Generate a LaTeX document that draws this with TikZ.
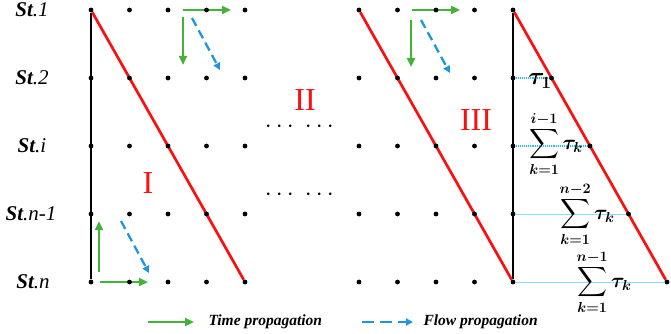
\documentclass[tikz,border=0pt]{standalone}
\usepackage{amsmath,bm}
\usepackage{fontspec}
\setmainfont{Liberation Serif}
\usetikzlibrary{arrows.meta,positioning,backgrounds}
\definecolor{stgreen}{RGB}{66,178,56}
\definecolor{stblue}{RGB}{30,150,222}
\definecolor{stred}{RGB}{250,16,16}
\definecolor{stcyan}{RGB}{30,200,235}
\tikzset{
  sdot/.style={circle, fill=black, minimum size=4.8pt, inner sep=0pt},
  stlabel/.style={font=\fontsize{21}{24}\selectfont\itshape},
  zone/.style={text=stred, font=\fontsize{32}{34}\selectfont},
  skip/.style={font=\fontsize{26}{28}\selectfont},
  sline/.style={line width=2pt, black},
  dline/.style={line width=2.7pt, stred},
  tprop/.style={-{Triangle[length=9pt,width=8pt]}, line width=2.7pt, stgreen},
  fprop/.style={-{Triangle[length=7pt,width=7pt]}, line width=2.3pt, stblue,
                dash pattern=on 9pt off 5pt},
  fproplong/.style={fprop, dash pattern=on 12pt off 6pt},
  gap/.style={densely dotted, line width=1.1pt, stcyan},
  gapfaint/.style={line width=0.6pt, stcyan!55},
  legtext/.style={font=\fontsize{15.5}{18}\selectfont\bfseries\itshape, anchor=west},
  sumlabel/.style={font=\fontsize{21}{23}\selectfont, inner sep=0pt},
}

\begin{document}
\begin{tikzpicture}[x=1pt, y=-1pt, >=Stealth]
  \useasboundingbox (0,0) rectangle (671,334);
  % left block of stations
  \node[sdot](a11) at (91,10){}; \node[sdot](a12) at (129.5,10){}; \node[sdot](a13) at (168,10){};
  \node[sdot](a14) at (206.5,10){}; \node[sdot](a15) at (245,10){};
  \node[sdot](a21) at (91,78){}; \node[sdot](a22) at (129.5,78){}; \node[sdot](a23) at (168,78){};
  \node[sdot](a24) at (206.5,78){}; \node[sdot](a25) at (245,78){};
  \node[sdot](a31) at (91,146){}; \node[sdot](a32) at (129.5,146){}; \node[sdot](a33) at (168,146){};
  \node[sdot](a34) at (206.5,146){}; \node[sdot](a35) at (245,146){};
  \node[sdot](a41) at (91,214){}; \node[sdot](a42) at (129.5,214){}; \node[sdot](a43) at (168,214){};
  \node[sdot](a44) at (206.5,214){}; \node[sdot](a45) at (245,214){};
  \node[sdot](a51) at (91,282){}; \node[sdot](a52) at (129.5,282){}; \node[sdot](a53) at (168,282){};
  \node[sdot](a54) at (206.5,282){}; \node[sdot](a55) at (245,282){};
  % right block
  \begin{scope}[shift={(268,0)}]
    \node[sdot](b11) at (91,10){}; \node[sdot](b12) at (129.5,10){}; \node[sdot](b13) at (168,10){};
    \node[sdot](b14) at (206.5,10){}; \node[sdot](b15) at (245,10){};
    \node[sdot](b21) at (91,78){}; \node[sdot](b22) at (129.5,78){}; \node[sdot](b23) at (168,78){};
    \node[sdot](b24) at (206.5,78){}; \node[sdot](b25) at (245,78){};
    \node[sdot](b31) at (91,146){}; \node[sdot](b32) at (129.5,146){}; \node[sdot](b33) at (168,146){};
    \node[sdot](b34) at (206.5,146){}; \node[sdot](b35) at (245,146){};
    \node[sdot](b41) at (91,214){}; \node[sdot](b42) at (129.5,214){}; \node[sdot](b43) at (168,214){};
    \node[sdot](b44) at (206.5,214){}; \node[sdot](b45) at (245,214){};
    \node[sdot](b51) at (91,282){}; \node[sdot](b52) at (129.5,282){}; \node[sdot](b53) at (168,282){};
    \node[sdot](b54) at (206.5,282){}; \node[sdot](b55) at (245,282){};
  \end{scope}
  \node[sdot](t2) at (551.5,78){}; \node[sdot](t3) at (590,146){};
  \node[sdot](t4) at (628.5,214){}; \node[sdot](t5) at (667,282){};

  \node[stlabel](s1) at (32,10){\textbf{St}.1};
  \node[stlabel](s2) at (32,78){\textbf{St}.2};
  \node[stlabel](si) at (32,146){\textbf{St}.i};
  \node[stlabel](sn1) at (31,214){\textbf{St}.n-1};
  \node[stlabel](sn) at (33,282){\textbf{St}.n};

  \node[zone](zI) at (148,183){I};
  \node[zone](zII) at (305,100){II};
  \node[zone](zIII) at (476,120){III};
  \node[skip](dotsA) at (301.5,127){$\cdots\mkern5mu\cdots$};
  \node[skip](dotsB) at (301.5,195){$\cdots\mkern5mu\cdots$};

  \node[font=\fontsize{27}{29}\selectfont, inner sep=0pt](tau1) at (540,81){$\bm{\tau_1}$};
  \node[sumlabel](sumi) at (556,144){$\displaystyle\sum_{\bm{k=1}}^{\bm{i-1}}\bm{\tau_k}$};
  \node[sumlabel](sumn2) at (587,214){$\displaystyle\sum_{\bm{k=1}}^{\bm{n-2}}\bm{\tau_k}$};
  \node[sumlabel](sumn1) at (604,282){$\displaystyle\sum_{\bm{k=1}}^{\bm{n-1}}\bm{\tau_k}$};

  \coordinate (gA1) at (183,10);  \coordinate (gA2) at (231,10);
  \coordinate (gA3) at (183,17);  \coordinate (gA4) at (183,65);
  \coordinate (fA1) at (192,18);  \coordinate (fA2) at (220,70);
  \coordinate (gB1) at (412,10);  \coordinate (gB2) at (460,10);
  \coordinate (gB3) at (411,20);  \coordinate (gB4) at (411,67);
  \coordinate (fB1) at (421,20);  \coordinate (fB2) at (450,73);
  \coordinate (gC1) at (99,272);  \coordinate (gC2) at (99,221);
  \coordinate (gC3) at (100,282); \coordinate (gC4) at (148,282);
  \coordinate (fC1) at (121,221); \coordinate (fC2) at (149,273);

  \node[legtext](timeleg) at (205,322){Time propagation};
  \node[legtext](flowleg) at (420,322){Flow propagation};

  \begin{scope}[on background layer]
    \draw[sline] (a11)--(a51) (b15)--(b55);
    \draw[dline] (a11)--(a55) (b11)--(b55) (b15)--(t5);
    \draw[gap] (b25)--(t2) (b35)--(t3);
    \draw[gapfaint] (b45)--(t4) (b55)--(t5);
    \draw[tprop] (gA1)--(gA2); \draw[tprop] (gA3)--(gA4);
    \draw[tprop] (gB1)--(gB2); \draw[tprop] (gB3)--(gB4);
    \draw[tprop] (gC1)--(gC2); \draw[tprop] (gC3)--(gC4);
    \draw[fprop] (fA1)--(fA2); \draw[fprop] (fB1)--(fB2); \draw[fprop] (fC1)--(fC2);
    \draw[tprop] ([xshift=-57pt]timeleg.west)--([xshift=-11pt]timeleg.west);
    \draw[fproplong] ([xshift=-58pt]flowleg.west)--([xshift=-7pt]flowleg.west);
  \end{scope}
\end{tikzpicture}
\end{document}
